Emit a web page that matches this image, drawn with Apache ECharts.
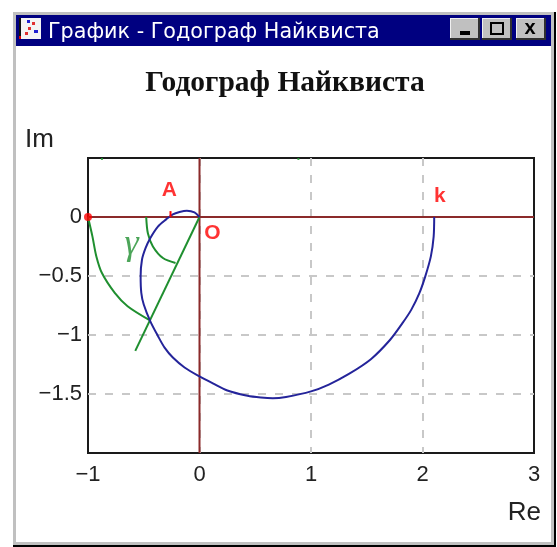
<!DOCTYPE html>
<html>
<head>
<meta charset="utf-8">
<title>Годограф Найквиста</title>
<script src="https://cdn.jsdelivr.net/npm/echarts@6/dist/echarts.min.js"></script>
<style>
html, body { margin: 0; padding: 0; background: #fff; }
#main { width: 557px; height: 547px; }
</style>
</head>
<body>
<div id="main"></div>
<script>
var chartTitle = 'Годограф Найквиста';
var windowTitle = 'График - Годограф Найквиста';
var xTicks = [-1, 0, 1, 2, 3];
var yTicks = [0, -0.5, -1, -1.5];

// годограф, значения
var hodograph = [[2.105,0],[2.1,-0.166],[2.075,-0.334],[2.025,-0.503],[1.97,-0.65],[1.9,-0.785],[1.82,-0.9],
	[1.71,-1.04],[1.537,-1.205],[1.34,-1.33],[1.16,-1.42],[1,-1.478],[0.776,-1.525],[0.657,-1.536],[0.55,-1.53],
	[0.43,-1.515],[0.25,-1.47],[0.12,-1.41],[0,-1.351],[-0.134,-1.275],[-0.239,-1.191],[-0.313,-1.107],[-0.373,-1.008],
	[-0.442,-0.882],[-0.5,-0.742],[-0.522,-0.643],[-0.528,-0.503],[-0.516,-0.362],[-0.484,-0.264],[-0.442,-0.18],
	[-0.373,-0.081],[-0.299,-0.02],[-0.239,0.022],[-0.179,0.042],[-0.113,0.053],[-0.045,0.039],[0,0]];
var phaseRay = [[0,0],[-0.576,-1.134]];
var unitArc = [[-1,0],[-0.96,-0.166],[-0.925,-0.334],[-0.875,-0.475],[-0.76,-0.643],[-0.645,-0.756],[-0.448,-0.874]];
var gammaArc = [[-0.478,0],[-0.463,-0.138],[-0.418,-0.25],[-0.328,-0.348],[-0.215,-0.39]];
var topMarkLeft = [[-0.875,0.5],[-0.875,0.485]];
var topMarkRight = [[0.887,0.5],[0.887,0.485]];
var reAxis = [[-1,0],[3,0]];
var imAxis = [[0,-2],[0,0.5]];
var pointA = [[-0.26,0],[-0.26,0.05]];
var startDot = [[-1,0]];
var redNotes = [['A',-0.27,0.225],['O',0.115,-0.135],['k',2.155,0.18]];
var greenNotes = [['γ',-0.61,-0.23]];

function lineSeries(data, color, width, z, smooth) {
	return {
		type: 'line',
		data: data,
		showSymbol: false,
		silent: true,
		smooth: smooth || false,
		z: z,
		lineStyle: { color: color, width: width }
	};
}

function noteSeries(notes, color, font, size, weight, style) {
	return {
		type: 'scatter',
		symbolSize: 0,
		silent: true,
		z: 6,
		data: notes.map(function(n) { return { value: [n[1], n[2]], name: n[0] }; }),
		label: {
			show: true,
			position: 'inside',
			formatter: '{b}',
			color: color,
			fontFamily: font,
			fontSize: size,
			fontWeight: weight,
			fontStyle: style
		}
	};
}

var chrome = [
	{ type: 'rect', shape: { x: 13, y: 12, width: 543, height: 535 }, style: { fill: '#000' }, z: -10 },
	{ type: 'rect', shape: { x: 13, y: 12, width: 541, height: 533 }, style: { fill: '#c0c0c0' }, z: -9 },
	{ type: 'rect', shape: { x: 16, y: 15, width: 535, height: 527 }, style: { fill: '#fff' }, z: -8 },
	{ type: 'rect', shape: { x: 16, y: 15, width: 535, height: 31 }, style: { fill: '#000080' }, z: -7 },
	{ type: 'rect', shape: { x: 19, y: 18, width: 22, height: 21 }, style: { fill: '#f4f4f4' }, z: -6 },
	{ type: 'rect', shape: { x: 19, y: 18, width: 2, height: 21 }, style: { fill: '#111' }, z: -5 },
	{ type: 'rect', shape: { x: 19, y: 36, width: 2, height: 3 }, style: { fill: '#e00000' }, z: -4 },
	{ type: 'rect', shape: { x: 27, y: 20, width: 3, height: 3 }, style: { fill: '#2020d0' }, z: -5 },
	{ type: 'rect', shape: { x: 32, y: 22, width: 3, height: 3 }, style: { fill: '#e03030' }, z: -5 },
	{ type: 'rect', shape: { x: 28, y: 27, width: 3, height: 3 }, style: { fill: '#e03030' }, z: -5 },
	{ type: 'rect', shape: { x: 34, y: 30, width: 4, height: 3 }, style: { fill: '#2020d0' }, z: -5 },
	{ type: 'rect', shape: { x: 25, y: 32, width: 3, height: 3 }, style: { fill: '#e03030' }, z: -5 },
	{ type: 'text', x: 48, y: 33, style: { text: windowTitle, fill: '#fff', font: '20.7px "DejaVu Sans"', textVerticalAlign: 'middle' }, z: -5 }
];

// кнопки окна
[[450, 'min'], [482, 'max'], [516, 'close']].forEach(function(b) {
	var x = b[0];
	chrome.push({ type: 'rect', shape: { x: x, y: 18, width: 30, height: 22 }, style: { fill: '#303030' }, z: -6 });
	chrome.push({ type: 'rect', shape: { x: x, y: 18, width: 28, height: 20 }, style: { fill: '#f0f0f0' }, z: -5.5 });
	chrome.push({ type: 'rect', shape: { x: x + 1, y: 19, width: 27, height: 19 }, style: { fill: '#c0c0c0' }, z: -5 });
	if (b[1] == 'min') {
		chrome.push({ type: 'rect', shape: { x: x + 10, y: 31, width: 10, height: 4 }, style: { fill: '#000' }, z: -4 });
	} else if (b[1] == 'max') {
		chrome.push({ type: 'rect', shape: { x: x + 9, y: 23, width: 12, height: 11 }, style: { fill: 'none', stroke: '#000', lineWidth: 2 }, z: -4 });
	} else {
		chrome.push({ type: 'text', x: x + 14, y: 28, style: { text: 'x', fill: '#000', font: 'bold 20px "Liberation Sans"', textAlign: 'center', textVerticalAlign: 'middle' }, z: -4 });
	}
});

chrome.push({ type: 'text', x: 25, y: 140, style: { text: 'Im', fill: '#222', font: '26px "Liberation Sans"', textVerticalAlign: 'middle' } });
chrome.push({ type: 'text', x: 541, y: 513, style: { text: 'Re', fill: '#222', font: '26px "Liberation Sans"', textAlign: 'right', textVerticalAlign: 'middle' } });

var option = {
	animation: false,
	backgroundColor: '#fff',
	title: {
		text: chartTitle,
		left: 280,
		top: 63,
		textAlign: 'center',
		textStyle: { fontFamily: 'Liberation Serif', fontSize: 29.5, fontWeight: 'bold', color: '#111' }
	},
	grid: { left: 88, right: 23, top: 158, bottom: 94, show: true, borderColor: '#1a1a1a', borderWidth: 2, backgroundColor: 'transparent' },
	xAxis: {
		type: 'value',
		min: xTicks[0],
		max: xTicks[xTicks.length - 1],
		interval: 1,
		axisLine: { show: false },
		axisTick: { show: false },
		splitLine: { show: true, showMinLine: false, showMaxLine: false, lineStyle: { color: '#c8c8c8', type: [8, 9], width: 2 } },
		axisLabel: {
			margin: 11,
			color: '#222',
			fontFamily: 'Liberation Sans',
			fontSize: 22,
			hideOverlap: false,
			showMinLabel: true,
			showMaxLabel: true,
			formatter: function(v) { return String(v).replace('-', '−'); }
		}
	},
	yAxis: {
		type: 'value',
		min: -2,
		max: 0.5,
		interval: 0.5,
		axisLine: { show: false },
		axisTick: { show: false },
		splitLine: { show: true, showMinLine: false, showMaxLine: false, lineStyle: { color: '#c8c8c8', type: [8, 9], width: 2 } },
		axisLabel: {
			margin: 6,
			color: '#222',
			fontFamily: 'Liberation Sans',
			fontSize: 22,
			formatter: function(v) { return yTicks.indexOf(v) >= 0 ? String(v).replace('-', '−') : ''; }
		}
	},
	graphic: { elements: chrome },
	series: [
		lineSeries(reAxis, '#8b2a2a', 2, 3),
		lineSeries(imAxis, '#8b2a2a', 2, 3),
		lineSeries(unitArc, '#1f8f2f', 2, 4, 0.3),
		lineSeries(gammaArc, '#1f8f2f', 2, 4, 0.3),
		lineSeries(phaseRay, '#1f8f2f', 2, 4),
		lineSeries(topMarkLeft, '#1f8f2f', 2, 4),
		lineSeries(topMarkRight, '#1f8f2f', 2, 4),
		lineSeries(hodograph, '#24249a', 2, 5, 0.3),
		lineSeries(pointA, '#ff0000', 2, 5),
		{ type: 'scatter', data: startDot, symbolSize: 8, silent: true, z: 6, clip: false, itemStyle: { color: '#ff0000' } },
		noteSeries(redNotes, '#ff0000', 'Liberation Sans', 21, 'bold', 'normal'),
		noteSeries(greenNotes, '#1f8f2f', 'Liberation Serif', 36, 'normal', 'italic')
	]
};

var myChart = echarts.init(document.getElementById('main'));
myChart.setOption(option);
</script>
</body>
</html>
